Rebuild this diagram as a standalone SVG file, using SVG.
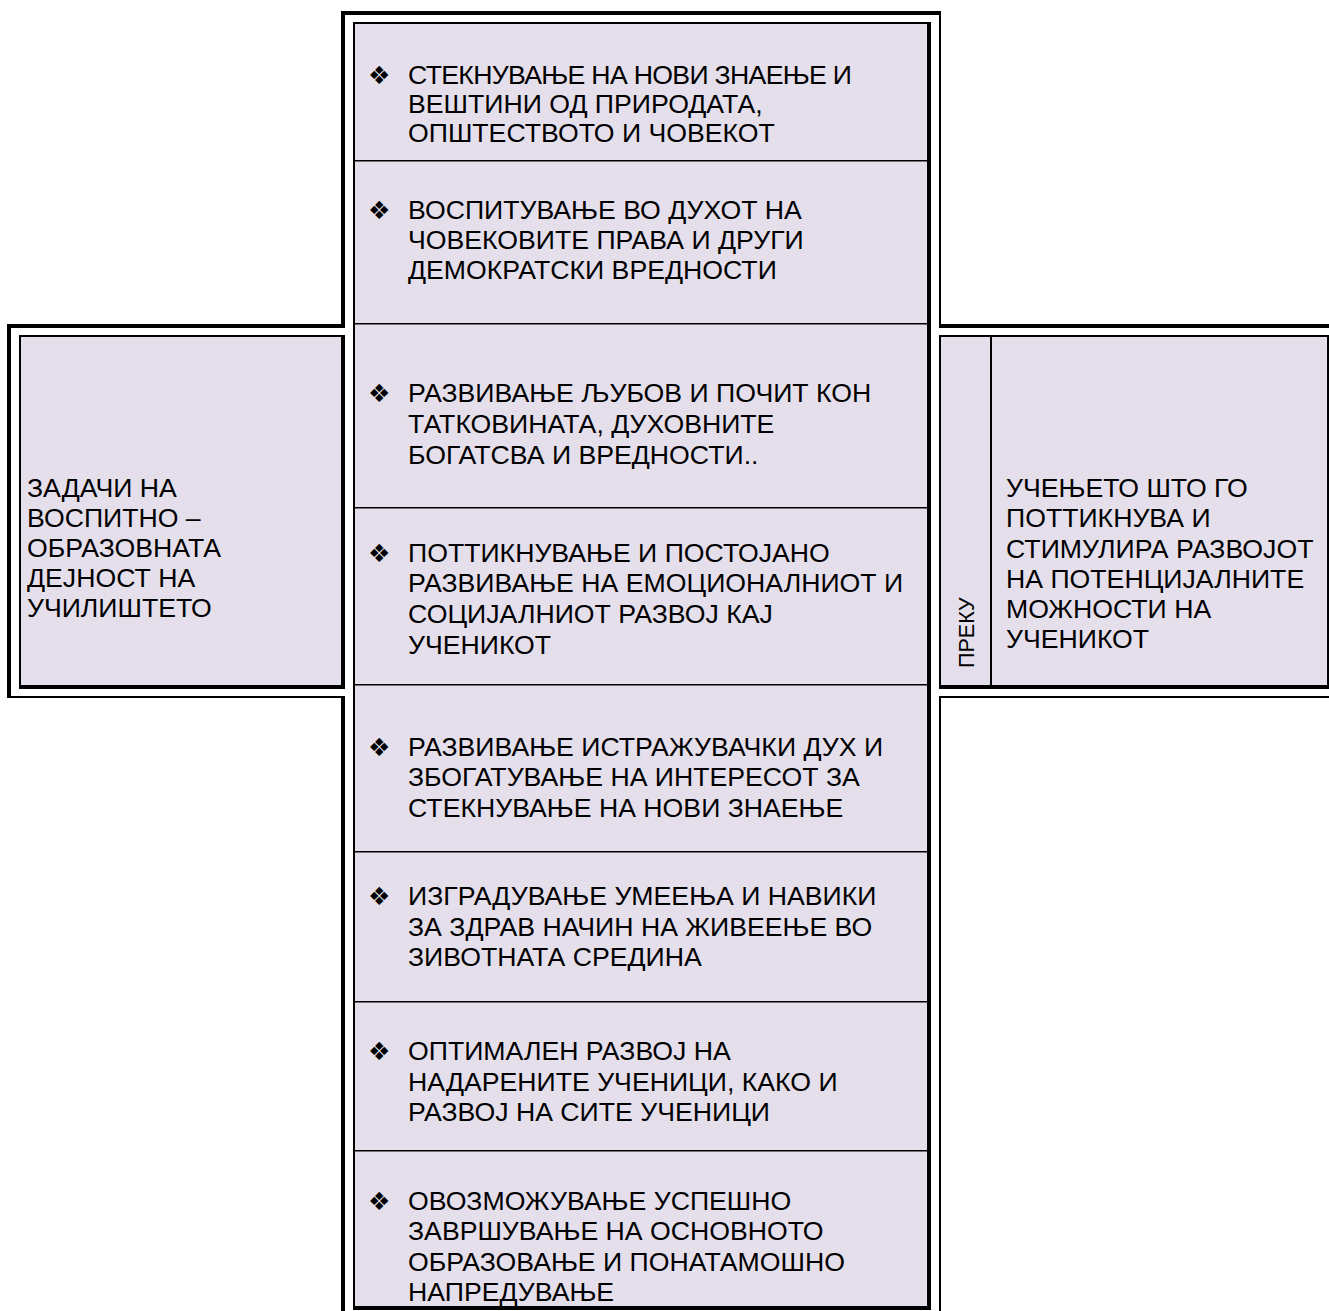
<svg xmlns="http://www.w3.org/2000/svg" width="1329" height="1311" viewBox="0 0 1329 1311">
<style>
.fill{fill:#E5DFEC}
.ln{fill:#000}
.t{font-family:"Liberation Sans",Arial,sans-serif;font-size:26.67px;fill:#000}
.v{font-family:"Liberation Sans",Arial,sans-serif;font-size:21.5px;fill:#000}
.b{font-family:"DejaVu Sans",sans-serif;font-size:25px;fill:#000}
</style>
<rect width="1329" height="1311" fill="#fff"/>
<g id="frames">
<rect class="fill" x="355" y="24" width="572" height="1282"/>
<rect class="fill" x="21" y="337" width="320" height="348"/>
<rect class="fill" x="941" y="337" width="386" height="348"/>
<rect class="ln" x="341" y="11" width="600" height="4"/>
<rect class="ln" x="341" y="11" width="4" height="317"/>
<rect class="ln" x="341" y="335" width="4" height="354"/>
<rect class="ln" x="341" y="696" width="4" height="615"/>
<rect class="ln" x="939" y="11" width="2" height="317"/>
<rect class="ln" x="939" y="335" width="2" height="354"/>
<rect class="ln" x="939" y="696" width="2" height="615"/>
<rect class="ln" x="353" y="22" width="578" height="2"/>
<rect class="ln" x="353" y="22" width="2" height="1288"/>
<rect class="ln" x="927" y="22" width="4" height="1288"/>
<rect class="ln" x="353" y="1306" width="578" height="4"/>
<rect class="ln" x="7" y="324" width="338" height="4"/>
<rect class="ln" x="7" y="324" width="4" height="374"/>
<rect class="ln" x="7" y="696" width="338" height="2"/>
<rect class="ln" x="19" y="335" width="326" height="2"/>
<rect class="ln" x="19" y="335" width="2" height="354"/>
<rect class="ln" x="19" y="685" width="326" height="4"/>
<rect class="ln" x="939" y="324" width="390" height="4"/>
<rect class="ln" x="939" y="696" width="390" height="2"/>
<rect class="ln" x="939" y="335" width="390" height="2"/>
<rect class="ln" x="939" y="685" width="390" height="4"/>
<rect class="ln" x="1327" y="335" width="4" height="354"/>
<rect class="ln" x="990" y="337" width="2" height="348"/>
</g>
<g id="connectors">
<rect class="ln" x="355" y="160" width="572" height="1.5"/>
<rect class="ln" x="355" y="323" width="572" height="1.5"/>
<rect class="ln" x="355" y="507" width="572" height="1.5"/>
<rect class="ln" x="355" y="684" width="572" height="1.5"/>
<rect class="ln" x="355" y="851" width="572" height="1.5"/>
<rect class="ln" x="355" y="1001" width="572" height="1.5"/>
<rect class="ln" x="355" y="1150" width="572" height="1.5"/>
</g>
<g id="left-node">
<text class="t"><tspan x="27" y="497">ЗАДАЧИ НА</tspan><tspan x="27" y="527">ВОСПИТНО –</tspan><tspan x="27" y="557">ОБРАЗОВНАТА</tspan><tspan x="27" y="587">ДЕЈНОСТ НА</tspan><tspan x="27" y="617">УЧИЛИШТЕТО</tspan></text>
</g>
<g id="right-node">
<text class="v" transform="translate(974,668) rotate(-90)" x="0" y="0">ПРЕКУ</text>
<text class="t"><tspan x="1006" y="497">УЧЕЊЕТО ШТО ГО</tspan><tspan x="1006" y="527">ПОТТИКНУВА И</tspan><tspan x="1006" y="558">СТИМУЛИРА РАЗВОЈОТ</tspan><tspan x="1006" y="588">НА ПОТЕНЦИЈАЛНИТЕ</tspan><tspan x="1006" y="618">МОЖНОСТИ НА</tspan><tspan x="1006" y="648">УЧЕНИКОТ</tspan></text>
</g>
<g id="row1">
<text class="b" x="368" y="84">❖</text>
<text class="t" x="408" y="84" textLength="444" lengthAdjust="spacing">СТЕКНУВАЊЕ НА НОВИ ЗНАЕЊЕ И</text>
<text class="t"><tspan x="408" y="113">ВЕШТИНИ ОД ПРИРОДАТА,</tspan><tspan x="408" y="142">ОПШТЕСТВОТО И ЧОВЕКОТ</tspan></text>
</g>
<g id="row2">
<text class="b" x="368" y="219">❖</text>
<text class="t"><tspan x="408" y="219">ВОСПИТУВАЊЕ ВО ДУХОТ НА</tspan><tspan x="408" y="249">ЧОВЕКОВИТЕ ПРАВА И ДРУГИ</tspan><tspan x="408" y="279">ДЕМОКРАТСКИ ВРЕДНОСТИ</tspan></text>
</g>
<g id="row3">
<text class="b" x="368" y="402">❖</text>
<text class="t"><tspan x="408" y="402">РАЗВИВАЊЕ ЉУБОВ И ПОЧИТ КОН</tspan><tspan x="408" y="433">ТАТКОВИНАТА, ДУХОВНИТЕ</tspan><tspan x="408" y="464">БОГАТСВА И ВРЕДНОСТИ..</tspan></text>
</g>
<g id="row4">
<text class="b" x="368" y="562">❖</text>
<text class="t"><tspan x="408" y="562">ПОТТИКНУВАЊЕ И ПОСТОЈАНО</tspan><tspan x="408" y="592">РАЗВИВАЊЕ НА ЕМОЦИОНАЛНИОТ И</tspan><tspan x="408" y="623">СОЦИЈАЛНИОТ РАЗВОЈ КАЈ</tspan><tspan x="408" y="654">УЧЕНИКОТ</tspan></text>
</g>
<g id="row5">
<text class="b" x="368" y="756">❖</text>
<text class="t"><tspan x="408" y="756">РАЗВИВАЊЕ ИСТРАЖУВАЧКИ ДУХ И</tspan><tspan x="408" y="786">ЗБОГАТУВАЊЕ НА ИНТЕРЕСОТ ЗА</tspan><tspan x="408" y="817">СТЕКНУВАЊЕ НА НОВИ ЗНАЕЊЕ</tspan></text>
</g>
<g id="row6">
<text class="b" x="368" y="905">❖</text>
<text class="t"><tspan x="408" y="905">ИЗГРАДУВАЊЕ УМЕЕЊА И НАВИКИ</tspan><tspan x="408" y="936">ЗА ЗДРАВ НАЧИН НА ЖИВЕЕЊЕ ВО</tspan><tspan x="408" y="966">ЗИВОТНАТА СРЕДИНА</tspan></text>
</g>
<g id="row7">
<text class="b" x="368" y="1060">❖</text>
<text class="t"><tspan x="408" y="1060">ОПТИМАЛЕН РАЗВОЈ НА</tspan><tspan x="408" y="1091">НАДАРЕНИТЕ УЧЕНИЦИ, КАКО И</tspan><tspan x="408" y="1121">РАЗВОЈ НА СИТЕ УЧЕНИЦИ</tspan></text>
</g>
<g id="row8">
<text class="b" x="368" y="1210">❖</text>
<text class="t"><tspan x="408" y="1210">ОВОЗМОЖУВАЊЕ УСПЕШНО</tspan><tspan x="408" y="1240">ЗАВРШУВАЊЕ НА ОСНОВНОТО</tspan><tspan x="408" y="1271">ОБРАЗОВАЊЕ И ПОНАТАМОШНО</tspan><tspan x="408" y="1301">НАПРЕДУВАЊЕ</tspan></text>
</g>
</svg>
